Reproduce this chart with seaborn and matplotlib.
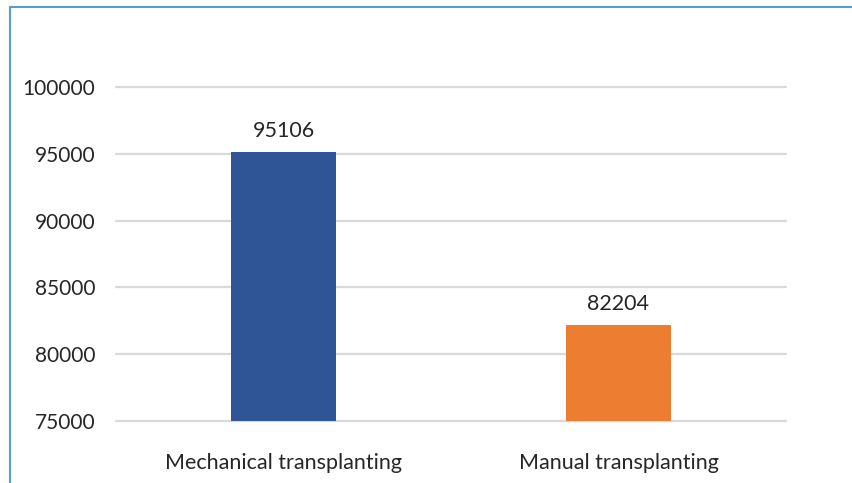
import matplotlib
matplotlib.use("Agg")
import matplotlib.pyplot as plt
import seaborn as sns
import pandas as pd
from matplotlib.lines import Line2D

categories = ["Mechanical transplanting", "Manual transplanting"]
values = [95106, 82204]
colors = ["#2F5597", "#ED7D31"]
yticks = [75000, 80000, 85000, 90000, 95000, 100000]

sns.set_theme(style="white")
plt.rcParams['font.family'] = ['Lato', 'DejaVu Sans']

df = pd.DataFrame({"cat": categories, "val": values})
fig = plt.figure(figsize=(8.53, 4.83), dpi=100)
ax = fig.add_axes([116/853, (483-421)/483, (786-116)/853, (421-87)/483])

sns.barplot(data=df, x="cat", y="val", hue="cat", palette=colors, ax=ax,
            width=0.316, legend=False, saturation=1, linewidth=0, edgecolor="none")
ax.set_ylim(75000, 100000)
ax.set_yticks(yticks)
ax.set_yticklabels([str(v) for v in yticks], fontsize=15, color="#262626")
ax.tick_params(axis='y', length=0, pad=15)
ax.tick_params(axis='x', length=0, pad=23, labelsize=15.5, labelcolor="#262626")
ax.yaxis.grid(True, color="#D9D9D9", linewidth=1.6)
for gl in ax.get_ygridlines():
    gl.set_clip_on(False)
ax.set_axisbelow(True)
for s in ax.spines.values():
    s.set_visible(False)
ax.set_xlabel("")
ax.set_ylabel("")
for c, v in zip(ax.containers, values):
    ax.bar_label(c, labels=[str(v)], padding=8, fontsize=15.5, color="#262626")

fig.add_artist(Line2D([10/853, 1], [1-7/483, 1-7/483], transform=fig.transFigure,
                      color="#5B9BD5", linewidth=1.5))
fig.add_artist(Line2D([10/853, 10/853], [0, 1-7/483], transform=fig.transFigure,
                      color="#5B9BD5", linewidth=1.5))

fig.savefig("out.png", dpi=100)
